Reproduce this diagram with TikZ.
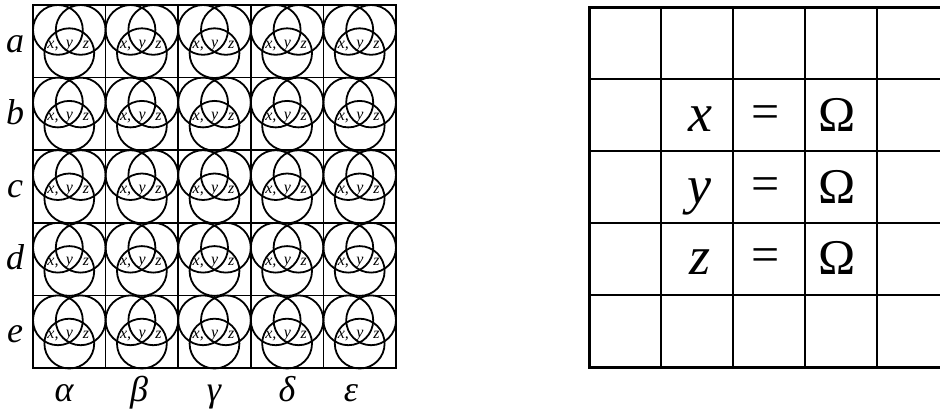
\documentclass[tikz,border=0pt]{standalone}
\usepackage{fontspec}
\setmainfont{Liberation Serif}
\begin{document}
\begin{tikzpicture}[x=1pt,y=-1pt,
  gridline/.style={line width=1.7pt,black},
  outerline/.style={line width=2.3pt,black},
  tabline/.style={line width=1.3pt,black},
  tabouter/.style={line width=3pt,black},
  venn/.style={line width=1.8pt,black},
  small/.style={inner sep=0pt,anchor=base,font=\fontsize{16}{17}\selectfont\itshape},
  rowlab/.style={inner sep=0pt,anchor=base,font=\fontsize{36}{40}\selectfont\itshape},
  bigit/.style={inner sep=0pt,anchor=base,font=\fontsize{54}{58}\selectfont\itshape},
  big/.style={inner sep=0pt,anchor=base,font=\fontsize{50}{54}\selectfont}]
\useasboundingbox (0,0) rectangle (940,415);
\clip (0,0) rectangle (940,415);
% left grid circles
\foreach \i in {0,...,4}{
  \foreach \j in {0,...,4}{
    \begin{scope}[shift={(33+\j*72.6,5+\i*72.6)}]
      \draw[venn] (24.9,24.9) circle (24.9);
      \draw[venn] (47.7,24.9) circle (24.9);
      \draw[venn] (36.3,48.2) circle (24.9);
      \node[small] (x\i\j) at (20,43) {x,};
      \node[small] (y\i\j) at (36.5,42) {y};
      \node[small] (z\i\j) at (53,43) {z};
    \end{scope}
  }
}
% left grid lines
\foreach \k in {1,...,4}{
  \draw[gridline] (33+\k*72.6,5) -- (33+\k*72.6,368);
  \draw[gridline] (33,5+\k*72.6) -- (396,5+\k*72.6);
}
\draw[outerline] (33,5) rectangle (396,368);
% row labels
\foreach \l [count=\i from 0] in {a,b,c,d,e}{
  \node[rowlab] (r\l) at (15,52+\i*72.6) {\l};
}
% column labels
\node[rowlab] (ca) at (64,401) {α};
\node[rowlab] (cb) at (139,401) {β};
\node[rowlab] (cg) at (214,401) {γ};
\node[rowlab] (cd) at (287,401) {δ};
\node[rowlab] (ce) at (351,401) {ε};
% right table
\foreach \k in {1,...,4}{
  \draw[tabline] (589+\k*72,7) -- (589+\k*72,367);
  \draw[tabline] (589,7+\k*72) -- (949,7+\k*72);
}
\draw[tabouter] (589,7) rectangle (949,367);
\node[bigit] (tx) at (700,131) {x};
\node[bigit] (ty) at (699,203) {y};
\node[bigit] (tz) at (700,274) {z};
\node[big] (e1) at (766,128) {=};
\node[big] (e2) at (766,200) {=};
\node[big] (e3) at (766,271) {=};
\node[big] (o1) at (837,131) {Ω};
\node[big] (o2) at (837,203) {Ω};
\node[big] (o3) at (837,274) {Ω};
\end{tikzpicture}
\end{document}
